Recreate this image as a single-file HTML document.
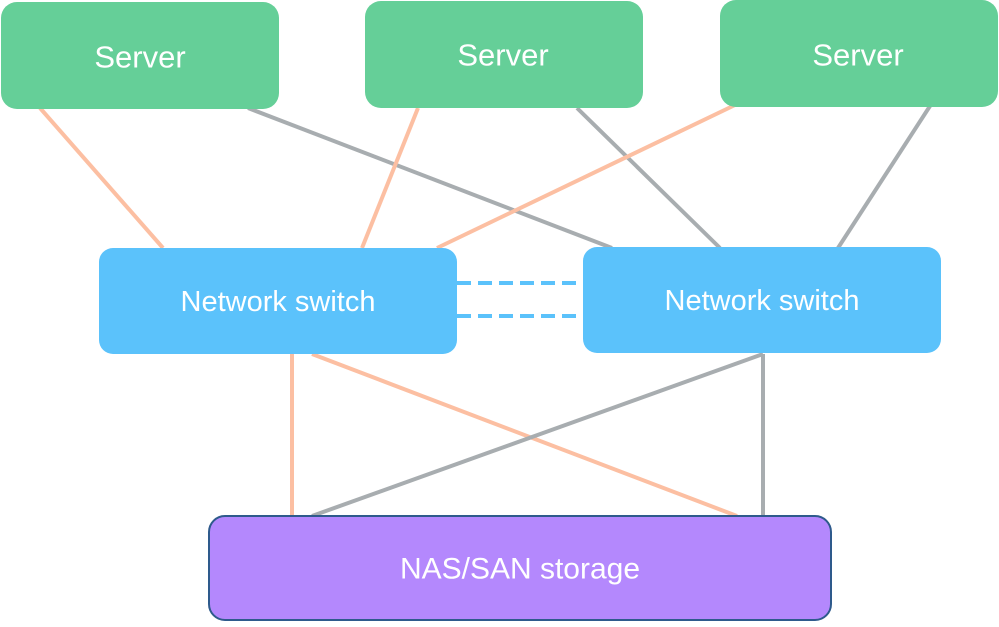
<!DOCTYPE html>
<html><head><style>
body{margin:0;width:999px;height:622px;background:#fff;overflow:hidden;}
svg text{font-family:"Liberation Sans",sans-serif;fill:#fff;text-anchor:middle;dominant-baseline:central;}
</style></head><body>
<svg width="999" height="622" xmlns="http://www.w3.org/2000/svg">
<g stroke-width="4" fill="none">
<line x1="40" y1="108" x2="163" y2="248" stroke="#fcbfa2"/>
<line x1="248" y1="108" x2="612" y2="248" stroke="#a8adb0"/>
<line x1="418" y1="108" x2="362" y2="248" stroke="#fcbfa2"/>
<line x1="577" y1="108" x2="720" y2="248" stroke="#a8adb0"/>
<line x1="735" y1="105" x2="437" y2="248" stroke="#fcbfa2"/>
<line x1="930" y1="106" x2="838" y2="248" stroke="#a8adb0"/>
<line x1="292" y1="354" x2="292" y2="516" stroke="#fcbfa2"/>
<line x1="312" y1="354" x2="737" y2="516" stroke="#fcbfa2"/>
<line x1="763" y1="354" x2="312" y2="516" stroke="#a8adb0"/>
<line x1="763" y1="354" x2="763" y2="516" stroke="#a8adb0"/>
<line x1="457" y1="283" x2="583" y2="283" stroke="#5bc2fb" stroke-dasharray="14,7"/>
<line x1="457" y1="316" x2="583" y2="316" stroke="#5bc2fb" stroke-dasharray="14,7"/>
</g>
<rect x="1" y="2" width="278" height="107" rx="16" fill="#65cf98"/>
<rect x="365" y="1" width="278" height="107" rx="16" fill="#65cf98"/>
<rect x="720" y="0" width="278" height="107" rx="16" fill="#65cf98"/>
<rect x="99" y="248" width="358" height="106" rx="14" fill="#5bc2fb"/>
<rect x="583" y="247" width="358" height="106" rx="14" fill="#5bc2fb"/>
<rect x="209" y="516" width="622" height="104" rx="16" fill="#b488fd" stroke="#2e5a8c" stroke-width="2"/>
<text x="140" y="57" font-size="31">Server</text>
<text x="503" y="55" font-size="31">Server</text>
<text x="858" y="55" font-size="31">Server</text>
<text x="278" y="302" font-size="29">Network switch</text>
<text x="762" y="301" font-size="29">Network switch</text>
<text x="520" y="569" font-size="30">NAS/SAN storage</text>
</svg>
</body></html>
